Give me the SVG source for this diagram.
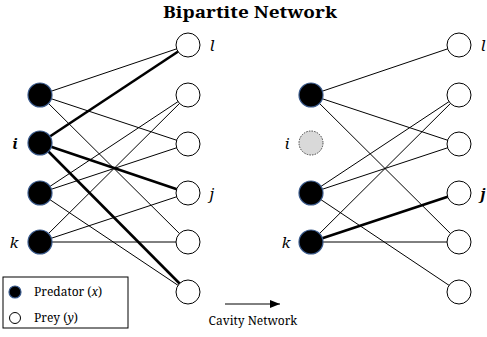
<svg xmlns="http://www.w3.org/2000/svg" width="487" height="337" viewBox="0 0 487 337">
<style>
.e{stroke:#000;stroke-width:1;fill:none}
.t{stroke:#000;stroke-width:2.6;fill:none}
.pred{fill:#000;stroke:#3a5a8c;stroke-width:1.2}
.prey{fill:#fff;stroke:#000;stroke-width:1}
.gone{fill:#d9d9d9;stroke:#444;stroke-width:1;stroke-dasharray:1.5 1.2}
.lbl{font-family:"Noto Serif","DejaVu Serif","Liberation Serif",serif;font-style:italic;font-size:15px;fill:#000}
.sm{font-family:"Noto Serif","DejaVu Serif","Liberation Serif",serif;font-size:12px;fill:#000}
</style>
<defs>
<marker id="ah" markerWidth="10" markerHeight="8" refX="10" refY="4" orient="auto" markerUnits="userSpaceOnUse">
<path d="M0,0 L10,4 L0,8 Z" fill="#000"/>
</marker>
</defs>
<text x="250" y="18" text-anchor="middle" style="font-family:'Noto Serif','DejaVu Serif','Liberation Serif',serif;font-weight:bold;font-size:16px" textLength="174" lengthAdjust="spacingAndGlyphs">Bipartite Network</text>
<g id="connectors">
<line class="e" x1="40" y1="95" x2="188" y2="45"/>
<line class="e" x1="40" y1="95" x2="188" y2="144"/>
<line class="e" x1="40" y1="95" x2="188" y2="242"/>
<line class="e" x1="40" y1="193" x2="188" y2="95"/>
<line class="e" x1="40" y1="193" x2="188" y2="144"/>
<line class="e" x1="40" y1="193" x2="188" y2="292"/>
<line class="e" x1="40" y1="242" x2="188" y2="95"/>
<line class="e" x1="40" y1="242" x2="188" y2="193"/>
<line class="e" x1="40" y1="242" x2="188" y2="242"/>
<line class="t" x1="40" y1="143" x2="188" y2="45"/>
<line class="t" x1="40" y1="143" x2="188" y2="193"/>
<line class="t" x1="40" y1="143" x2="188" y2="292"/>
<line class="e" x1="311" y1="95" x2="459" y2="45"/>
<line class="e" x1="311" y1="95" x2="459" y2="144"/>
<line class="e" x1="311" y1="95" x2="459" y2="242"/>
<line class="e" x1="311" y1="193" x2="459" y2="95"/>
<line class="e" x1="311" y1="193" x2="459" y2="144"/>
<line class="e" x1="311" y1="193" x2="459" y2="292"/>
<line class="e" x1="311" y1="242" x2="459" y2="95"/>
<line class="t" x1="311" y1="242" x2="459" y2="193"/>
<line class="e" x1="311" y1="242" x2="459" y2="242"/>
<line class="e" x1="225" y1="304" x2="280" y2="304" marker-end="url(#ah)"/>
</g>
<g id="L-pred1"><circle class="pred" cx="40" cy="95" r="12"/></g>
<g id="L-pred-i"><circle class="pred" cx="40" cy="143" r="12"/><text class="lbl" x="15" y="149" text-anchor="middle" font-weight="bold">i</text></g>
<g id="L-pred3"><circle class="pred" cx="40" cy="193" r="12"/></g>
<g id="L-pred-k"><circle class="pred" cx="40" cy="242" r="12"/><text class="lbl" x="14" y="248" text-anchor="middle">k</text></g>
<g id="L-prey-l"><circle class="prey" cx="188" cy="45" r="12"/><text class="lbl" x="212" y="51" text-anchor="middle">l</text></g>
<g id="L-prey2"><circle class="prey" cx="188" cy="95" r="12"/></g>
<g id="L-prey3"><circle class="prey" cx="188" cy="144" r="12"/></g>
<g id="L-prey-j"><circle class="prey" cx="188" cy="193" r="12"/><text class="lbl" x="212" y="199" text-anchor="middle">j</text></g>
<g id="L-prey5"><circle class="prey" cx="188" cy="242" r="12"/></g>
<g id="L-prey6"><circle class="prey" cx="188" cy="292" r="12"/></g>
<g id="R-pred1"><circle class="pred" cx="311" cy="95" r="12"/></g>
<g id="R-pred-i"><circle class="gone" cx="311" cy="143" r="12"/><text class="lbl" x="287" y="149" text-anchor="middle">i</text></g>
<g id="R-pred3"><circle class="pred" cx="311" cy="193" r="12"/></g>
<g id="R-pred-k"><circle class="pred" cx="311" cy="242" r="12"/><text class="lbl" x="286" y="248" text-anchor="middle">k</text></g>
<g id="R-prey-l"><circle class="prey" cx="459" cy="45" r="12"/><text class="lbl" x="483" y="51" text-anchor="middle">l</text></g>
<g id="R-prey2"><circle class="prey" cx="459" cy="95" r="12"/></g>
<g id="R-prey3"><circle class="prey" cx="459" cy="144" r="12"/></g>
<g id="R-prey-j"><circle class="prey" cx="459" cy="193" r="12"/><text class="lbl" x="483" y="199" text-anchor="middle" font-weight="bold">j</text></g>
<g id="R-prey5"><circle class="prey" cx="459" cy="242" r="12"/></g>
<g id="R-prey6"><circle class="prey" cx="459" cy="292" r="12"/></g>
<g id="legend">
<rect x="3" y="277" width="125" height="51" fill="#fff" stroke="#000" stroke-width="1"/>
<circle class="pred" cx="15" cy="292" r="6"/>
<text class="sm" x="34" y="296">Predator (<tspan font-style="italic">x</tspan>)</text>
<circle class="prey" cx="15" cy="318" r="5.5"/>
<text class="sm" x="34" y="322">Prey (<tspan font-style="italic">y</tspan>)</text>
</g>
<g id="caption"><text class="sm" x="253" y="325" text-anchor="middle">Cavity Network</text></g>
</svg>
